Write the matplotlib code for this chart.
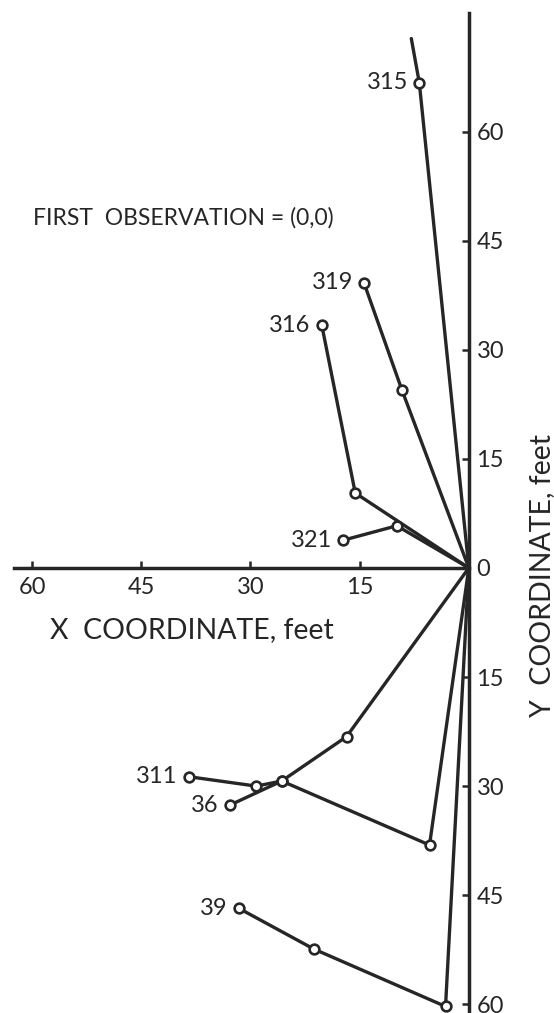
import matplotlib
matplotlib.use('Agg')
import matplotlib.pyplot as plt

plt.rcParams['font.family'] = ['Lato', 'DejaVu Sans']

ink = '#262626'

# spot tracks, feet from the first observation (x to the left is negative)
names = ['315', '319', '316', '321', '311', '36', '39']
xs = [
    [0, -6.8, -7.9],
    [0, -9.2, -14.4],
    [0, -15.6, -20.2],
    [0, -9.9, -17.3],
    [0, -16.8, -25.7, -29.2, -38.5],
    [0, -5.4, -25.7, -32.8],
    [0, -3.2, -21.3, -31.6],
]
ys = [
    [0, 66.7, 72.8],
    [0, 24.5, 39.2],
    [0, 10.3, 33.4],
    [0, 5.8, 3.8],
    [0, -23.2, -29.3, -30.0, -28.7],
    [0, -38.1, -29.3, -32.6],
    [0, -60.3, -52.4, -46.8],
]
# index of the last plotted observation on each track (315 runs on past it)
last_obs = [1, 2, 2, 2, 4, 3, 3]

x_ticks = [-60, -45, -30, -15]
x_tick_labels = ['60', '45', '30', '15']
y_ticks = [60, 45, 30, 15, 0, -15, -30, -45, -60]
y_tick_labels = ['60', '45', '30', '15', '0', '15', '30', '45', '60']

fig = plt.figure(figsize=(5.54, 10.13), dpi=100)
ax = fig.add_axes([0, 0, 1, 1])
ax.patch.set_visible(False)

for i in range(len(names)):
    ax.plot(xs[i], ys[i], color=ink, lw=2.4, solid_capstyle='round', zorder=3)

for i in range(len(names)):
    n = last_obs[i]
    ax.plot(xs[i][1:n + 1], ys[i][1:n + 1], 'o', ms=7, mfc='white',
            mec=ink, mew=1.9, zorder=4)
    ax.annotate(names[i], (xs[i][n], ys[i][n]), xytext=(-8, 0),
                textcoords='offset points', ha='right', va='center',
                fontsize=17, color=ink)

ax.set_xlim(-64.4, 11.7)
ax.set_ylim(-61.2, 78.1)

ax.spines['top'].set_visible(False)
ax.spines['left'].set_visible(False)
ax.spines['bottom'].set_position(('data', 0))
ax.spines['bottom'].set_bounds(-62.5, 0)
ax.spines['right'].set_position(('data', 0))
ax.spines['right'].set_bounds(-61.3, 76.3)
for s in ['bottom', 'right']:
    ax.spines[s].set_linewidth(2.5)
    ax.spines[s].set_color(ink)

ax.xaxis.set_ticks_position('bottom')
ax.yaxis.set_ticks_position('right')
ax.set_xticks(x_ticks)
ax.set_xticklabels(x_tick_labels)
ax.set_yticks(y_ticks)
ax.set_yticklabels(y_tick_labels)
ax.tick_params(axis='x', direction='in', length=5, width=1.8, pad=6.5,
               labelsize=17, colors=ink)
ax.tick_params(axis='y', direction='in', length=5, width=1.8, pad=5.5,
               labelsize=17, colors=ink)

ax.text(-59.8, 48.1, 'FIRST  OBSERVATION = (0,0)', ha='left', va='center',
        fontsize=16.5, color=ink)
ax.text(-38.0, -8.6, 'X  COORDINATE, feet', ha='center', va='center',
        fontsize=20.5, color=ink)
ax.text(10.0, -1.0, 'Y  COORDINATE, feet', ha='center', va='center',
        rotation=90, fontsize=20.5, color=ink)

fig.savefig('out.png', dpi=100)
